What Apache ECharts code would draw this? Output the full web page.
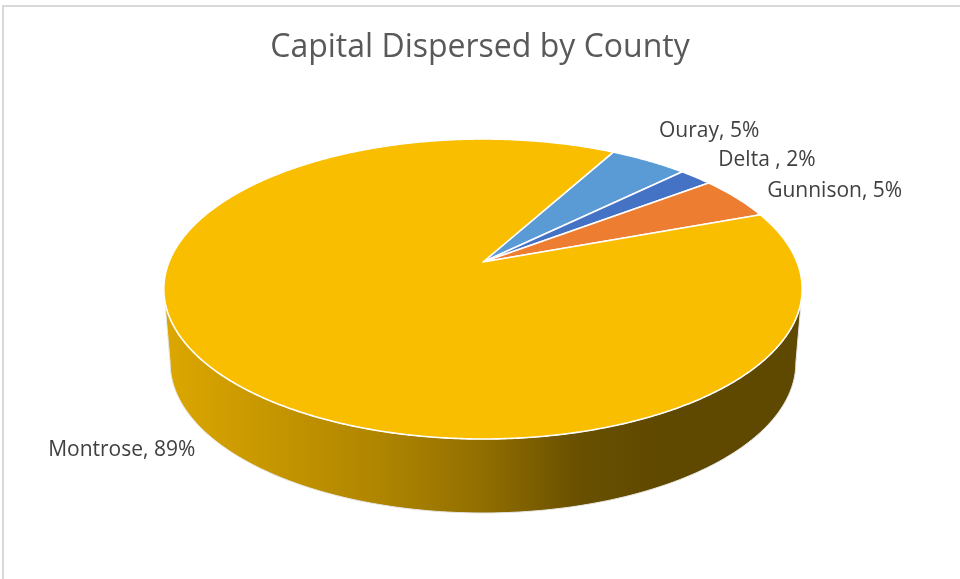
<!DOCTYPE html>
<html>
<head>
<meta charset="utf-8">
<title>Capital Dispersed by County</title>
<script src="https://cdn.jsdelivr.net/npm/echarts@6/dist/echarts.min.js"></script>
<style>
  html, body { margin: 0; padding: 0; background: #fff; }
  #chart { width: 960px; height: 579px; }
</style>
</head>
<body>
<div id="chart"></div>
<script>
// values (percent of capital)
const counties = ['Ouray', 'Delta ', 'Gunnison', 'Montrose'];
const capitalShare = [4.7, 2.0, 4.7, 88.6];

const sliceColors = ['#5B9BD5', '#4472C4', '#ED7D31', '#FABE00'];
// small label nudges, like excel "best fit"
const labelNudge = [[-7, -19], [0, -8], [3, 0], [19, -8]];

// tilted pie geometry (perspective mapping of a unit circle)
const cx = 483;
const k = 314;
const pa = 97.98, pb = 262, pc = -0.18;
const depth = 74;
const startAngle = 28.7;
const front = [100.4, 259.6];
const total = capitalShare.reduce((s, v) => s + v, 0);

function proj(deg, r, dz, ks) {
  const t = deg * Math.PI / 180;
  const u = r * Math.sin(t);
  const v = -r * Math.cos(t);
  const den = 1 + pc * v;
  return [cx + k * (ks || 1) * u / den, (pa * v + pb) / den + (dz || 0)];
}

function darken(hex, f) {
  const c = echarts.color.parse(hex);
  return 'rgb(' + [0, 1, 2].map(i => Math.round(c[i] * (1 - f))).join(',') + ')';
}

function sideFill(color) {
  return new echarts.graphic.LinearGradient(164, 0, 802, 0, [
    { offset: 0, color: darken(color, 0.12) },
    { offset: 0.34, color: darken(color, 0.30) },
    { offset: 0.5, color: darken(color, 0.42) },
    { offset: 0.65, color: darken(color, 0.58) },
    { offset: 0.78, color: darken(color, 0.62) },
    { offset: 1, color: darken(color, 0.62) }
  ], true);
}

function renderItem(params, api) {
  const i = params.dataIndex;
  let before = 0;
  for (let j = 0; j < i; j++) before += capitalShare[j];
  const a0 = startAngle + before / total * 360;
  const a1 = a0 + api.value(0) / total * 360;
  const children = [];

  // side wall (front part only)
  [0, 360].forEach(shift => {
    const s = Math.max(a0, front[0] + shift);
    const e = Math.min(a1, front[1] + shift);
    if (e <= s) return;
    const topPts = [], botPts = [];
    for (let a = s; a < e; a += 1) {
      topPts.push(proj(a, 1));
      botPts.push(proj(a, 1, depth, 0.98));
    }
    topPts.push(proj(e, 1));
    botPts.push(proj(e, 1, depth, 0.98));
    children.push({
      type: 'polygon',
      z2: 1,
      shape: { points: topPts.concat(botPts.reverse()) },
      style: { fill: sideFill(sliceColors[i]), stroke: '#e6e6e6', lineWidth: 1 }
    });
  });

  // top face
  const pts = [proj(0, 0)];
  for (let a = a0; a < a1; a += 0.5) pts.push(proj(a, 1));
  pts.push(proj(a1, 1));
  children.push({
    type: 'polygon',
    z2: 10,
    shape: { points: pts },
    style: { fill: sliceColors[i], stroke: '#ffffff', lineWidth: 1.6, lineJoin: 'round' }
  });

  // label
  const m = (a0 + a1) / 2;
  const isFront = Math.cos(m * Math.PI / 180) < 0;
  const p = proj(m, 1.12, isFront ? depth : 0);
  const right = Math.sin(m * Math.PI / 180) >= 0;
  const pct = Math.round(api.value(0) / total * 100);
  children.push({
    type: 'text',
    z2: 20,
    style: {
      text: counties[i] + ', ' + pct + '%',
      x: p[0] + labelNudge[i][0],
      y: p[1] + labelNudge[i][1],
      fill: '#404040',
      font: '21px "Open Sans", sans-serif',
      align: right ? 'left' : 'right',
      verticalAlign: 'middle',
      textAlign: right ? 'left' : 'right',
      textVerticalAlign: 'middle'
    }
  });

  return { type: 'group', children: children };
}

const chart = echarts.init(document.getElementById('chart'));
chart.setOption({
  animation: false,
  title: {
    text: 'Capital Dispersed by County',
    left: 'center',
    top: 27,
    textStyle: {
      fontFamily: 'Open Sans',
      fontSize: 32,
      fontWeight: 'normal',
      color: '#595959'
    }
  },
  graphic: [{
    type: 'rect',
    shape: { x: 3, y: 6, width: 1200, height: 1200 },
    style: { fill: 'none', stroke: '#d9d9d9', lineWidth: 2 },
    silent: true
  }],
  series: [{
    type: 'custom',
    coordinateSystem: 'none',
    renderItem: renderItem,
    data: capitalShare.map(v => [v])
  }]
});
</script>
</body>
</html>
